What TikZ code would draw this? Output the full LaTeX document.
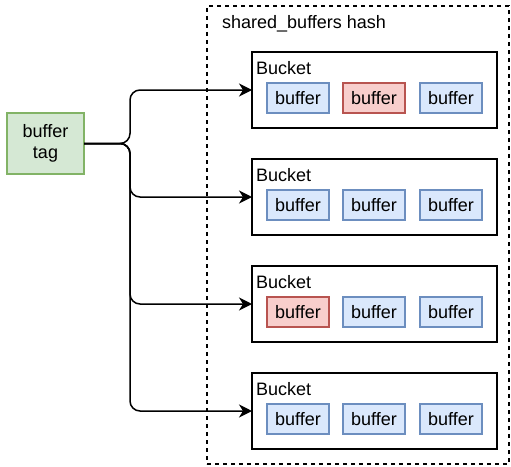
\documentclass[tikz,border=0pt]{standalone}
\usepackage{fontspec}
\setmainfont{Liberation Sans}
\usetikzlibrary{arrows.meta}
\definecolor{bfill}{HTML}{DAE8FC}
\definecolor{bstroke}{HTML}{6C8EBF}
\definecolor{rfill}{HTML}{F8CECC}
\definecolor{rstroke}{HTML}{B85450}
\definecolor{gfill}{HTML}{D5E8D4}
\definecolor{gstroke}{HTML}{82B366}
\begin{document}
\begin{tikzpicture}[x=1pt,y=-1pt,
  font=\fontsize{18}{21.6}\selectfont,
  hashbox/.style={draw=black, line width=1.3pt, dash pattern=on 4pt off 4pt,
    minimum width=302pt, minimum height=458pt, anchor=north west, inner sep=0, outer sep=0},
  bucket/.style={draw=black, line width=1.6pt, minimum width=245pt, minimum height=76pt,
    anchor=north west, inner sep=0, outer sep=0},
  buf/.style={draw=bstroke, fill=bfill, line width=1.2pt, minimum width=62pt,
    minimum height=30pt, anchor=north west, inner sep=0, outer sep=0},
  hot/.style={buf, draw=rstroke, fill=rfill},
  tagbox/.style={draw=gstroke, fill=gfill, line width=1.2pt, minimum width=77pt,
    minimum height=61pt, anchor=north west, inner sep=0, outer sep=0, align=center},
  conn/.style={line width=1.5pt, rounded corners=10pt,
    -{Stealth[length=13pt,width=13pt,inset=4pt]}},
  lbl/.style={anchor=base west, inner sep=0}]
\useasboundingbox (0,0) rectangle (511,466);

\node[hashbox] (hash) at (207,6) {};
\node[lbl] (hashlbl) at (222,28) {shared\_buffers hash};

\node[tagbox] (tag) at (7,113) {buffer\\tag};

% buckets
\node[bucket] (b1) at (252,52) {};
\node[bucket] (b2) at (252,159) {};
\node[bucket] (b3) at (252,266) {};
\node[bucket] (b4) at (252,373) {};

\foreach \i/\y in {1/52,2/159,3/266,4/373}{
  \node[lbl] (bl\i) at (256,\y+22) {Bucket};
}

% buffers
\node[buf] (b1a) at (267,83) {buffer};
\node[hot] (b1b) at (343,83) {buffer};
\node[buf] (b1c) at (420,83) {buffer};

\node[buf] (b2a) at (267,190) {buffer};
\node[buf] (b2b) at (343,190) {buffer};
\node[buf] (b2c) at (420,190) {buffer};

\node[hot] (b3a) at (267,297) {buffer};
\node[buf] (b3b) at (343,297) {buffer};
\node[buf] (b3c) at (420,297) {buffer};

\node[buf] (b4a) at (267,404) {buffer};
\node[buf] (b4b) at (343,404) {buffer};
\node[buf] (b4c) at (420,404) {buffer};

% connectors
\coordinate (jx) at (130,143);
\foreach \b in {b1,b2,b3,b4}{
  \draw[conn] (tag.east) -- (tag.east -| jx) |- (\b.west);
}
\end{tikzpicture}
\end{document}
